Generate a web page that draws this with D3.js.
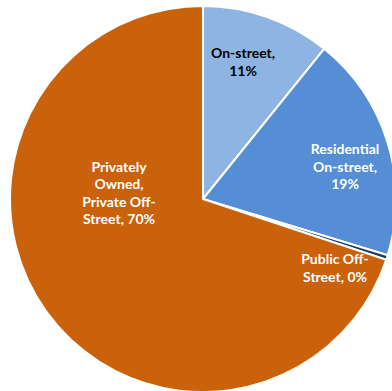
<!DOCTYPE html>
<html>
<head>
<meta charset="utf-8">
<script src="https://cdn.jsdelivr.net/npm/d3@7"></script>
<style>
  html, body { margin: 0; padding: 0; background: #fff; overflow: hidden; }
  svg { display: block; }
</style>
</head>
<body>
<svg id="chart" width="392" height="391"></svg>
<script>
// Parking supply by type (share of spaces, %)
const categories = ["On-street", "Residential On-street", "Public Off-Street", "Privately Owned, Private Off-Street"];
const shares = [10.8, 18.9, 0.4, 69.9];
// Label lines for each slice (the rounded share is appended)
const labelLines = [
  ["On-street,"],
  ["Residential", "On-street,"],
  ["Public Off-", "Street,"],
  ["Privately", "Owned,", "Private Off-", "Street,"]
];
const colors = ["#8EB4E3", "#558ED5", "#1F3864", "#C9620A"];
const labelColors = ["#000000", "#ffffff", "#ffffff", "#ffffff"];

const width = 392, height = 391;
const cx = 203, cy = 199, radius = 193;

const svg = d3.select("#chart");
const g = svg.append("g").attr("transform", `translate(${cx},${cy})`);

const data = categories.map((c, i) => ({ name: c, value: shares[i], i }));

const pie = d3.pie().value(d => d.value).sort(null);
const arc = d3.arc().innerRadius(0).outerRadius(radius);
const arcs = pie(data);

g.selectAll("path.slice")
  .data(arcs)
  .join("path")
  .attr("class", "slice")
  .attr("d", arc)
  .attr("fill", d => colors[d.data.i])
  .attr("stroke", "#fff")
  .attr("stroke-width", 2)
  .attr("stroke-linejoin", "round");

// Label block centres, relative to the pie centre
const labelPos = [[40, -137], [142, -32], [132, 69], [-84, -6]];
const lineHeight = 17.5;

arcs.forEach(d => {
  const i = d.data.i;
  const [x, y] = labelPos[i];
  const lines = labelLines[i].slice();
  const pct = Math.round(d.data.value) + "%";
  if (i === 2 || i === 3) {
    lines[lines.length - 1] = lines[lines.length - 1] + " " + pct;
  } else {
    lines.push(pct);
  }
  const text = g.append("text")
    .attr("text-anchor", "middle")
    .attr("font-family", "Lato, 'Open Sans', sans-serif")
    .attr("font-weight", "bold")
    .attr("font-size", 14)
    .attr("fill", labelColors[i]);
  const y0 = y - (lines.length - 1) * lineHeight / 2;
  lines.forEach((ln, k) => {
    text.append("tspan")
      .attr("x", x)
      .attr("y", y0 + k * lineHeight)
      .attr("dy", "0.35em")
      .text(ln);
  });
});
</script>
</body>
</html>
